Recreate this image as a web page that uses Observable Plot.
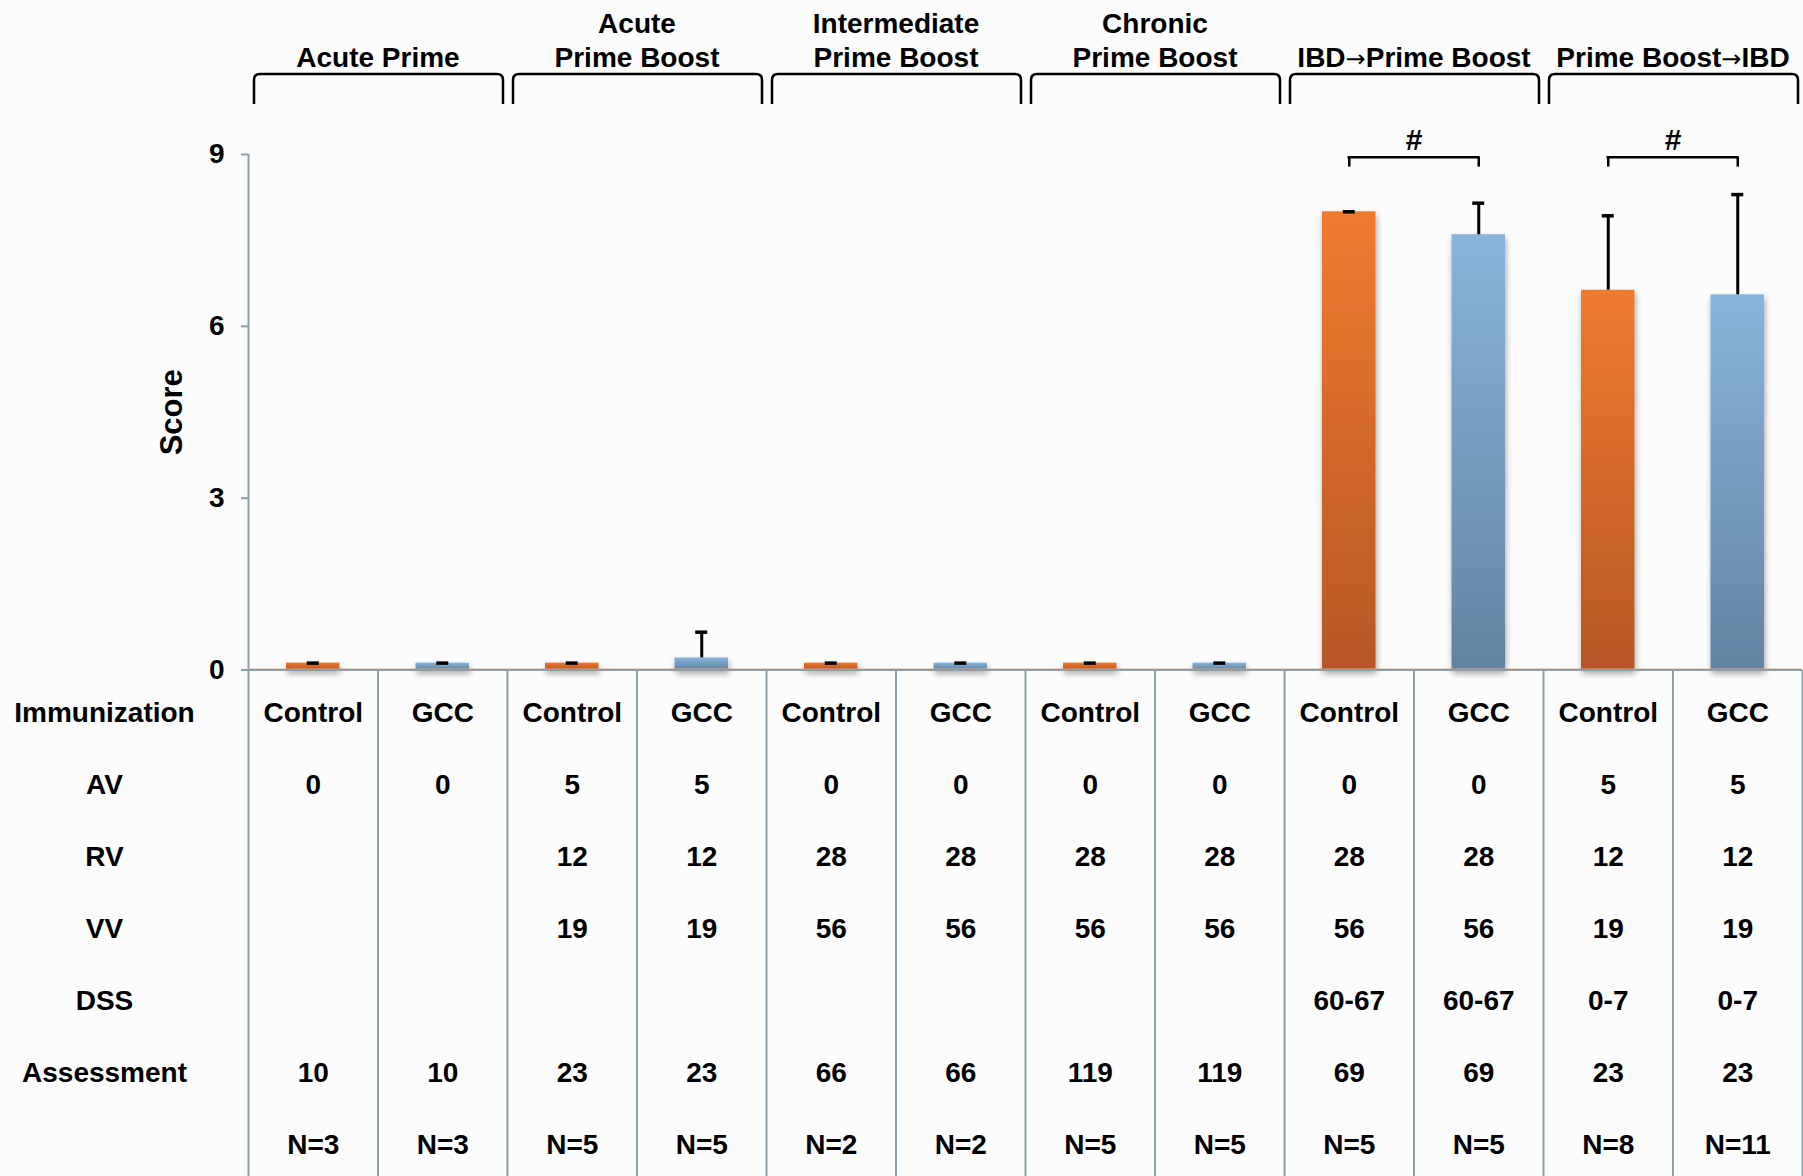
<!DOCTYPE html>
<html>
<head>
<meta charset="utf-8">
<script src="https://cdn.jsdelivr.net/npm/d3@7"></script>
<script src="https://cdn.jsdelivr.net/npm/@observablehq/plot@0.6"></script>
<style>
  html, body { margin: 0; padding: 0; background: #fcfcfd; }
  #chart svg { display: block; }
</style>
</head>
<body>
<div id="chart"></div>
<script>
// Experiment groups; each group has a Control and a GCC column.
const groups = ["Acute Prime", "Acute\nPrime Boost", "Intermediate\nPrime Boost", "Chronic\nPrime Boost", "IBD\u2192Prime Boost", "Prime Boost\u2192IBD"];
const immunization = ["Control", "GCC", "Control", "GCC", "Control", "GCC", "Control", "GCC", "Control", "GCC", "Control", "GCC"];

// Mean score and upper error per column
const scores = [0.12, 0.12, 0.12, 0.21, 0.12, 0.12, 0.12, 0.12, 8.0, 7.6, 6.63, 6.55];
const errors = [0, 0, 0, 0.45, 0, 0, 0, 0, 0, 0.55, 1.3, 1.75];

// Protocol table (days)
const av = ["0", "0", "5", "5", "0", "0", "0", "0", "0", "0", "5", "5"];
const rv = ["", "", "12", "12", "28", "28", "28", "28", "28", "28", "12", "12"];
const vv = ["", "", "19", "19", "56", "56", "56", "56", "56", "56", "19", "19"];
const dss = ["", "", "", "", "", "", "", "", "60-67", "60-67", "0-7", "0-7"];
const assessment = ["10", "10", "23", "23", "66", "66", "119", "119", "69", "69", "23", "23"];
const nCounts = [3, 3, 5, 5, 2, 2, 5, 5, 5, 5, 8, 11];

const rowKeys = ["Immunization", "AV", "RV", "VV", "DSS", "Assessment", "N"];
const rowLabels = ["Immunization", "AV", "RV", "VV", "DSS", "Assessment", ""];

// Pairs of columns compared, marked with "#"
const significance = [[8, 9], [10, 11]];
const sigLevel = 8.95;
const sigDrop = 0.17;

const yTicks = [0, 3, 6, 9];

const axisColor = "#8c9ea8";
const fontFamily = "'Liberation Sans', Arial, Helvetica, sans-serif";
const baseStyle = {fontFamily, fontSize: "28px", fontWeight: "bold", color: "#000", background: "transparent", overflow: "visible"};

const columns = immunization.map((name, i) => ({i, name, score: scores[i], err: errors[i]}));

// Gradient fills and a soft drop shadow for the bars
const defs = () => {
  const g = d3.create("svg:g");
  const d = g.append("defs");
  const grad = (id, top, bottom) => {
    const lg = d.append("linearGradient").attr("id", id)
      .attr("x1", 0).attr("y1", 0).attr("x2", 0).attr("y2", 1);
    lg.append("stop").attr("offset", "0%").attr("stop-color", top);
    lg.append("stop").attr("offset", "100%").attr("stop-color", bottom);
  };
  grad("fill-control", "#ef7b2f", "#b65725");
  grad("fill-gcc", "#89b4db", "#6284a2");
  const f = d.append("filter").attr("id", "bar-shadow")
    .attr("filterUnits", "userSpaceOnUse")
    .attr("x", 0).attr("y", 0).attr("width", 1803).attr("height", 720);
  f.append("feDropShadow").attr("dx", 1).attr("dy", 4).attr("stdDeviation", 3)
    .attr("flood-color", "#000").attr("flood-opacity", 0.35);
  return g.node();
};

// Round-cornered brackets spanning each experiment group
const groupBrackets = (index, scales, values, dims) => {
  const x = scales.x;
  const top = dims.marginTop;
  const r = 6;
  const g = d3.create("svg:g").attr("fill", "none").attr("stroke", "#000").attr("stroke-width", 2.5);
  groups.forEach((_, k) => {
    const x1 = x(2 * k) + 6, x2 = x(2 * k + 2) - 4;
    const y0 = top - 80, y1 = top - 50;
    g.append("path").attr("d",
      `M${x1},${y1}V${y0 + r}Q${x1},${y0} ${x1 + r},${y0}H${x2 - r}Q${x2},${y0} ${x2},${y0 + r}V${y1}`);
  });
  return g.node();
};

const chart = Plot.plot({
  width: 1803,
  height: 670,
  marginTop: 154,
  marginBottom: 0.5,
  marginLeft: 248,
  marginRight: 1,
  x: {domain: [0, 12], axis: null},
  y: {domain: [0, 9], axis: null},
  style: baseStyle,
  marks: [
    defs,
    // group headings and brackets
    Plot.text(groups, {x: (d, k) => 2 * k + 1, frameAnchor: "top", dy: -88, lineAnchor: "bottom", lineHeight: 1.18, text: d => d}),
    groupBrackets,
    // y axis
    Plot.ruleX([0], {y1: 0, y2: 9, stroke: axisColor, strokeWidth: 2}),
    Plot.ruleY(yTicks, {y: d => d, x1: 0, x2: 0, insetLeft: -7, stroke: axisColor, strokeWidth: 2}),
    Plot.text(yTicks, {y: d => d, x: 0, dx: -24, textAnchor: "end", text: d => String(d)}),
    Plot.text(["Score"], {frameAnchor: "left", dx: -76, rotate: -90, textAnchor: "middle", fontSize: 31, text: d => d}),
    // bars
    Plot.rectY(columns, {filter: d => d.name === "Control", x1: "i", x2: d => d.i + 1, y1: 0, y2: "score", insetLeft: 38, insetRight: 38, fill: "url(#fill-control)"}),
    Plot.rectY(columns, {filter: d => d.name === "GCC", x1: "i", x2: d => d.i + 1, y1: 0, y2: "score", insetLeft: 38, insetRight: 38, fill: "url(#fill-gcc)"}),
    // baseline
    Plot.ruleY([0], {x1: 0, x2: 12, dy: -1.5, stroke: "#f0a070", strokeOpacity: 0.5, strokeWidth: 1}),
    Plot.ruleY([0], {x1: 0, x2: 12, insetLeft: -7, stroke: axisColor, strokeWidth: 2}),
    // error bars
    Plot.ruleX(columns, {x: d => d.i + 0.5, y1: "score", y2: d => d.score + d.err, stroke: "#000", strokeWidth: 3}),
    Plot.ruleY(columns, {y: d => d.score + d.err, x1: d => d.i + 0.5, x2: d => d.i + 0.5, insetLeft: -6, insetRight: -6, stroke: "#000", strokeWidth: 3.5}),
    // significance brackets
    Plot.ruleY(significance, {y: sigLevel, x1: d => d[0] + 0.5, x2: d => d[1] + 0.5, insetLeft: -1.25, insetRight: -1.25, stroke: "#000", strokeWidth: 2.5}),
    Plot.ruleX(significance.flat(), {x: d => d + 0.5, y1: sigLevel - sigDrop, y2: sigLevel, stroke: "#000", strokeWidth: 2.5}),
    Plot.text(significance, {x: d => (d[0] + d[1]) / 2 + 0.5, y: sigLevel, dy: -7, lineAnchor: "bottom", fontWeight: 600, fontSize: 30, text: () => "#"})
  ]
});
d3.select(chart).selectAll('g[aria-label="rect"]').attr("filter", "url(#bar-shadow)");

// Draw the arrows in the group headings with a thin, full-size arrow glyph
d3.select(chart).selectAll("text").each(function() {
  const el = d3.select(this);
  if (el.selectAll("tspan").size() > 0) return;
  const s = el.text();
  if (!s.includes("\u2192")) return;
  el.text(null);
  s.split("\u2192").forEach((part, j) => {
    if (j > 0) el.append("tspan").attr("font-family", "'DejaVu Sans', sans-serif").attr("font-weight", "normal").attr("font-size", "24px").text("\u2192");
    el.append("tspan").text(part);
  });
});

// Protocol table beneath the bars
const tableRows = [immunization, av, rv, vv, dss, assessment, nCounts.map(n => `N=${n}`)];
const cells = [];
rowKeys.forEach((key, r) => tableRows[r].forEach((t, i) => { if (t) cells.push({key, i, t}); }));

const tableTop = 40.7, tableBottom = 28.3;
const table = Plot.plot({
  width: 1803,
  height: 506,
  marginTop: tableTop,
  marginBottom: tableBottom,
  marginLeft: 248,
  marginRight: 1,
  x: {domain: [0, 12], axis: null},
  y: {type: "point", domain: rowKeys, padding: 0, axis: null},
  style: baseStyle,
  marks: [
    Plot.ruleX(d3.range(13), {x: d => d, insetTop: -tableTop, insetBottom: -tableBottom, stroke: axisColor, strokeWidth: 2}),
    Plot.text(cells, {x: d => d.i + 0.5, y: "key", text: "t"}),
    Plot.text(rowKeys, {y: d => d, frameAnchor: "left", dx: -144, textAnchor: "middle", text: (d, r) => rowLabels[r]})
  ]
});

const root = document.getElementById("chart");
root.append(chart, table);
</script>
</body>
</html>
